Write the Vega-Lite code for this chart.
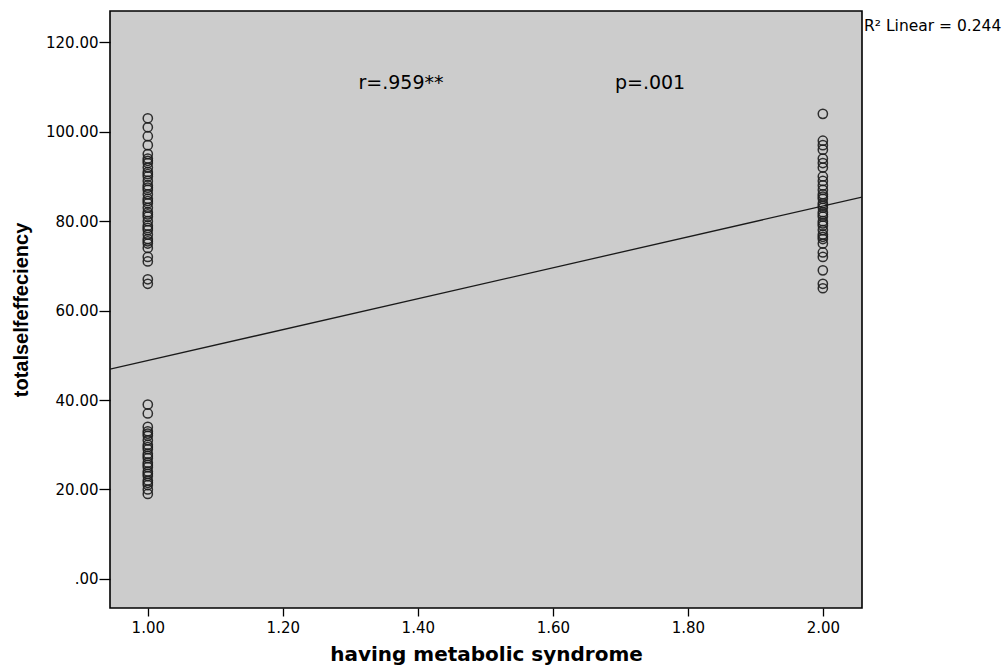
{
  "$schema": "https://vega.github.io/schema/vega-lite/v6.json",
  "width": 752,
  "height": 597,
  "autosize": {"type": "none"},
  "padding": {"left": 110, "top": 11, "right": 145, "bottom": 61},
  "background": "white",
  "config": {
    "view": {"fill": "#cccccc", "stroke": "#000000", "strokeWidth": 1.6},
    "axis": {"grid": false, "domain": false, "tickColor": "#000", "tickSize": 8, "tickWidth": 1.3, "labelColor": "#000", "labelFontSize": 15, "labelFont": "DejaVu Sans", "titleFontWeight": "bold", "titleColor": "#000"}
  },
  "datasets": {
    "pts": [
      {"x": 1, "y": 103}, {"x": 1, "y": 101}, {"x": 1, "y": 99}, {"x": 1, "y": 97}, {"x": 1, "y": 95},
      {"x": 1, "y": 94}, {"x": 1, "y": 93.5}, {"x": 1, "y": 93}, {"x": 1, "y": 92}, {"x": 1, "y": 91}, {"x": 1, "y": 90.5},
      {"x": 1, "y": 90}, {"x": 1, "y": 89}, {"x": 1, "y": 88}, {"x": 1, "y": 87.5}, {"x": 1, "y": 87}, {"x": 1, "y": 86},
      {"x": 1, "y": 85}, {"x": 1, "y": 84.5}, {"x": 1, "y": 84}, {"x": 1, "y": 83}, {"x": 1, "y": 82}, {"x": 1, "y": 81.5},
      {"x": 1, "y": 81}, {"x": 1, "y": 80}, {"x": 1, "y": 79}, {"x": 1, "y": 78.5}, {"x": 1, "y": 78}, {"x": 1, "y": 77},
      {"x": 1, "y": 76}, {"x": 1, "y": 75.5}, {"x": 1, "y": 75}, {"x": 1, "y": 74}, {"x": 1, "y": 72}, {"x": 1, "y": 71},
      {"x": 1, "y": 67}, {"x": 1, "y": 66},
      {"x": 1, "y": 39}, {"x": 1, "y": 37}, {"x": 1, "y": 34}, {"x": 1, "y": 33}, {"x": 1, "y": 32.5}, {"x": 1, "y": 32},
      {"x": 1, "y": 31}, {"x": 1, "y": 30}, {"x": 1, "y": 29.5}, {"x": 1, "y": 29}, {"x": 1, "y": 28}, {"x": 1, "y": 27.5}, {"x": 1, "y": 27},
      {"x": 1, "y": 26}, {"x": 1, "y": 25.5}, {"x": 1, "y": 25}, {"x": 1, "y": 24}, {"x": 1, "y": 23.5}, {"x": 1, "y": 23}, {"x": 1, "y": 22},
      {"x": 1, "y": 21.5}, {"x": 1, "y": 21}, {"x": 1, "y": 20}, {"x": 1, "y": 19},
      {"x": 2, "y": 104}, {"x": 2, "y": 98}, {"x": 2, "y": 97}, {"x": 2, "y": 96}, {"x": 2, "y": 94},
      {"x": 2, "y": 93}, {"x": 2, "y": 92}, {"x": 2, "y": 90}, {"x": 2, "y": 89}, {"x": 2, "y": 88},
      {"x": 2, "y": 87}, {"x": 2, "y": 86}, {"x": 2, "y": 85.5}, {"x": 2, "y": 85}, {"x": 2, "y": 84}, {"x": 2, "y": 83.5}, {"x": 2, "y": 83},
      {"x": 2, "y": 82}, {"x": 2, "y": 81.5}, {"x": 2, "y": 81}, {"x": 2, "y": 80}, {"x": 2, "y": 79.5}, {"x": 2, "y": 79}, {"x": 2, "y": 78},
      {"x": 2, "y": 77}, {"x": 2, "y": 76.5}, {"x": 2, "y": 76}, {"x": 2, "y": 75}, {"x": 2, "y": 73}, {"x": 2, "y": 72},
      {"x": 2, "y": 69}, {"x": 2, "y": 66}, {"x": 2, "y": 65}
    ],
    "fit": [
      {"x": 0.944, "y": 46.9},
      {"x": 2.058, "y": 85.4}
    ],
    "notes": [
      {"x": 1.375, "y": 110.8, "t": "r=.959**"},
      {"x": 1.744, "y": 110.8, "t": "p=.001"}
    ],
    "r2": [
      {"x": 2.061, "y": 123.6, "t": "R² Linear = 0.244"}
    ]
  },
  "layer": [
    {
      "data": {"name": "pts"},
      "mark": {"type": "point", "shape": "circle", "filled": false, "size": 85, "stroke": "#1e1e1e", "strokeWidth": 1.5, "opacity": 0.9},
      "encoding": {
        "x": {"field": "x", "type": "quantitative", "scale": {"domain": [0.944, 2.058], "nice": false, "zero": false},
              "axis": {"values": [1, 1.2, 1.4, 1.6, 1.8, 2], "format": ".2f", "labelPadding": 4, "titlePadding": 9, "titleFont": "DejaVu Sans", "titleFontSize": 20},
              "title": "having metabolic syndrome"},
        "y": {"field": "y", "type": "quantitative", "scale": {"domain": [-6.5, 127], "nice": false, "zero": false},
              "axis": {"values": [0, 20, 40, 60, 80, 100, 120], "labelExpr": "datum.value == 0 ? '.00' : format(datum.value, '.2f')", "tickSize": 11, "labelPadding": 1, "titlePadding": 14, "titleFont": "Liberation Sans", "titleFontSize": 20},
              "title": "totalselfeffeciency"}
      }
    },
    {
      "data": {"name": "fit"},
      "mark": {"type": "line", "color": "#1a1a1a", "strokeWidth": 1.3, "clip": true},
      "encoding": {
        "x": {"field": "x", "type": "quantitative"},
        "y": {"field": "y", "type": "quantitative"}
      }
    },
    {
      "data": {"name": "notes"},
      "mark": {"type": "text", "font": "DejaVu Sans", "fontSize": 19, "color": "#000", "align": "center", "baseline": "middle"},
      "encoding": {
        "x": {"field": "x", "type": "quantitative"},
        "y": {"field": "y", "type": "quantitative"},
        "text": {"field": "t"}
      }
    },
    {
      "data": {"name": "r2"},
      "mark": {"type": "text", "font": "DejaVu Sans", "fontSize": 15.5, "color": "#000", "align": "left", "baseline": "middle"},
      "encoding": {
        "x": {"field": "x", "type": "quantitative"},
        "y": {"field": "y", "type": "quantitative"},
        "text": {"field": "t"}
      }
    }
  ]
}
